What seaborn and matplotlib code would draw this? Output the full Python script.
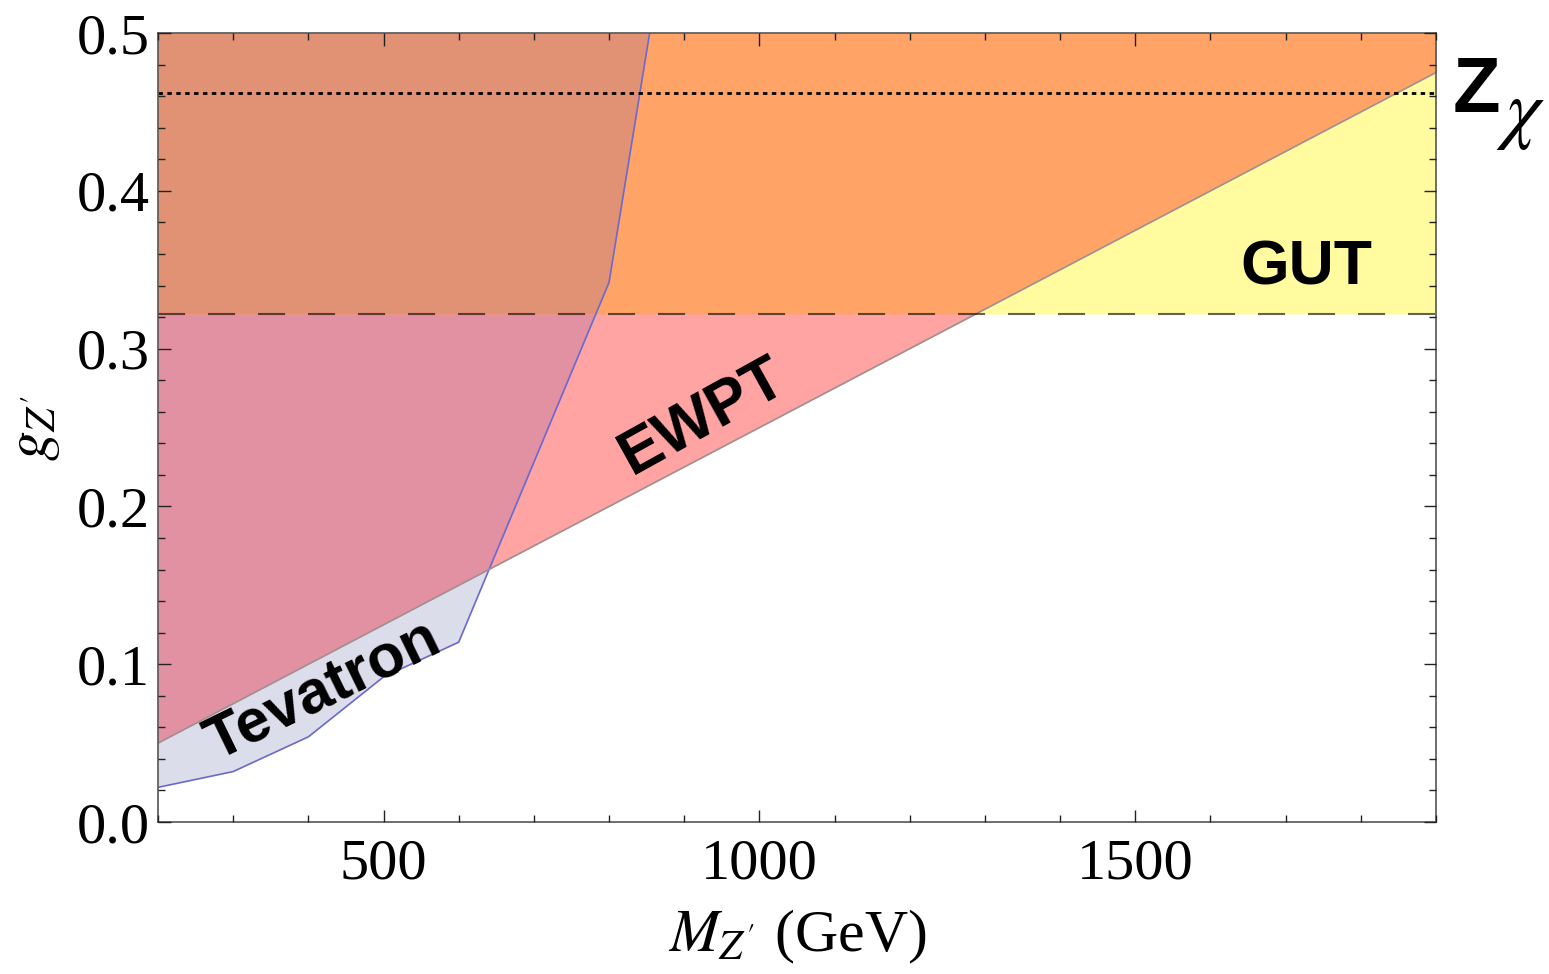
import numpy as np
import pandas as pd
import matplotlib
matplotlib.use("Agg")
import matplotlib.pyplot as plt
import seaborn as sns
from matplotlib.ticker import MultipleLocator

# ---- data ----
tev_mass = [200, 300, 400, 500, 600, 800, 854]
tev_g = [0.022, 0.032, 0.054, 0.092, 0.114, 0.342, 0.5]
ewpt_mass = [200, 1900]
ewpt_g = [0.05, 0.475]
gut_g = 0.322
zchi_g = 0.462
x_range = [200, 1900]
y_range = [0.0, 0.5]

sns.set_theme(style="white")
plt.rcParams['font.family'] = ['Liberation Serif', 'DejaVu Serif']
plt.rcParams['mathtext.fontset'] = 'stix'
plt.rcParams['text.color'] = 'black'
plt.rcParams['axes.labelcolor'] = 'black'
plt.rcParams['xtick.color'] = 'black'
plt.rcParams['ytick.color'] = 'black'

fig = plt.figure(figsize=(15.49, 9.74), dpi=100)
ax = fig.add_axes([0.102, 0.156, 0.825, 0.810])
ax.set_axisbelow(False)

grid = np.linspace(x_range[0], x_range[1], 3401)
ew = np.interp(grid, ewpt_mass, ewpt_g)
tev = np.interp(grid, tev_mass, tev_g, right=y_range[1])
top = np.full_like(grid, y_range[1])
gut = np.full_like(grid, gut_g)

c_pink = "#FFA3A3"
c_orange = "#FFA466"
c_yellow = "#FFFB9E"
c_lav = "#DCDDEA"
c_mauve = "#E291A2"
c_tevorange = "#E29274"

kw = dict(interpolate=True, linewidth=0, zorder=0.3)
ax.fill_between(grid, ew, top, color=c_pink, **kw)
lo = np.maximum(ew, gut)
ax.fill_between(grid, lo, top, where=lo < top, color=c_orange, **kw)
ax.fill_between(grid, gut, ew, where=ew > gut, color=c_yellow, **kw)
ax.fill_between(grid, tev, ew, where=tev < ew, color=c_lav, **kw)
lo2 = np.maximum(tev, ew)
ax.fill_between(grid, lo2, gut, where=lo2 < gut, color=c_mauve, **kw)
lo3 = np.maximum(tev, gut)
ax.fill_between(grid, lo3, top, where=lo3 < top, color=c_tevorange, **kw)

# boundary lines
tev_df = pd.DataFrame({"M": tev_mass, "g": tev_g})
ew_df = pd.DataFrame({"M": ewpt_mass, "g": ewpt_g})
sns.lineplot(data=tev_df, x="M", y="g", ax=ax, color="#6A6AD0", lw=1.2,
             sort=False, estimator=None)
sns.lineplot(data=ew_df, x="M", y="g", ax=ax, color="#A09090", lw=1.2,
             sort=False, estimator=None)

ax.axhline(gut_g, color="black", alpha=0.6, lw=1.5, dashes=(13, 11))
ax.axhline(zchi_g, color="black", lw=2.0, dashes=(1.6, 1.6))

ax.set_xlim(*x_range)
ax.set_ylim(*y_range)
ax.xaxis.set_major_locator(MultipleLocator(500))
ax.xaxis.set_minor_locator(MultipleLocator(100))
ax.yaxis.set_major_locator(MultipleLocator(0.1))
ax.yaxis.set_minor_locator(MultipleLocator(0.02))
ax.yaxis.set_major_formatter(matplotlib.ticker.FormatStrFormatter('%.1f'))
ax.tick_params(which='both', direction='in', top=True, right=True,
               bottom=True, left=True, color='#222222', width=1.0)
ax.tick_params(which='major', length=9, labelsize=42, pad=12)
ax.tick_params(axis='y', which='major', pad=6)
ax.tick_params(which='minor', length=5)
for s in ax.spines.values():
    s.set_color('#555555')
    s.set_linewidth(1.2)

ax.set_xlabel(r"$M_{Z'}$ (GeV)", fontsize=43, labelpad=12)
ax.set_ylabel(r"$g_{Z'}$", fontsize=43, labelpad=10)

sans = ['Liberation Sans', 'DejaVu Sans']
ax.text(925, 0.257, "EWPT", family=sans, fontweight='bold', fontsize=45,
        rotation=29, ha='center', va='center')
ax.text(420, 0.083, "Tevatron", family=sans, fontweight='bold', fontsize=44,
        rotation=26, ha='center', va='center')
ax.text(1728, 0.351, "GUT", family=sans, fontweight='bold', fontsize=45,
        ha='center', va='center')
ax.text(1954, 0.463, "Z", family=sans, fontweight='bold', fontsize=56,
        ha='center', va='center', clip_on=False)
ax.text(2013, 0.447, r"$\chi$", fontsize=56,
        ha='center', va='center', clip_on=False)

fig.savefig("out.png", dpi=100)
